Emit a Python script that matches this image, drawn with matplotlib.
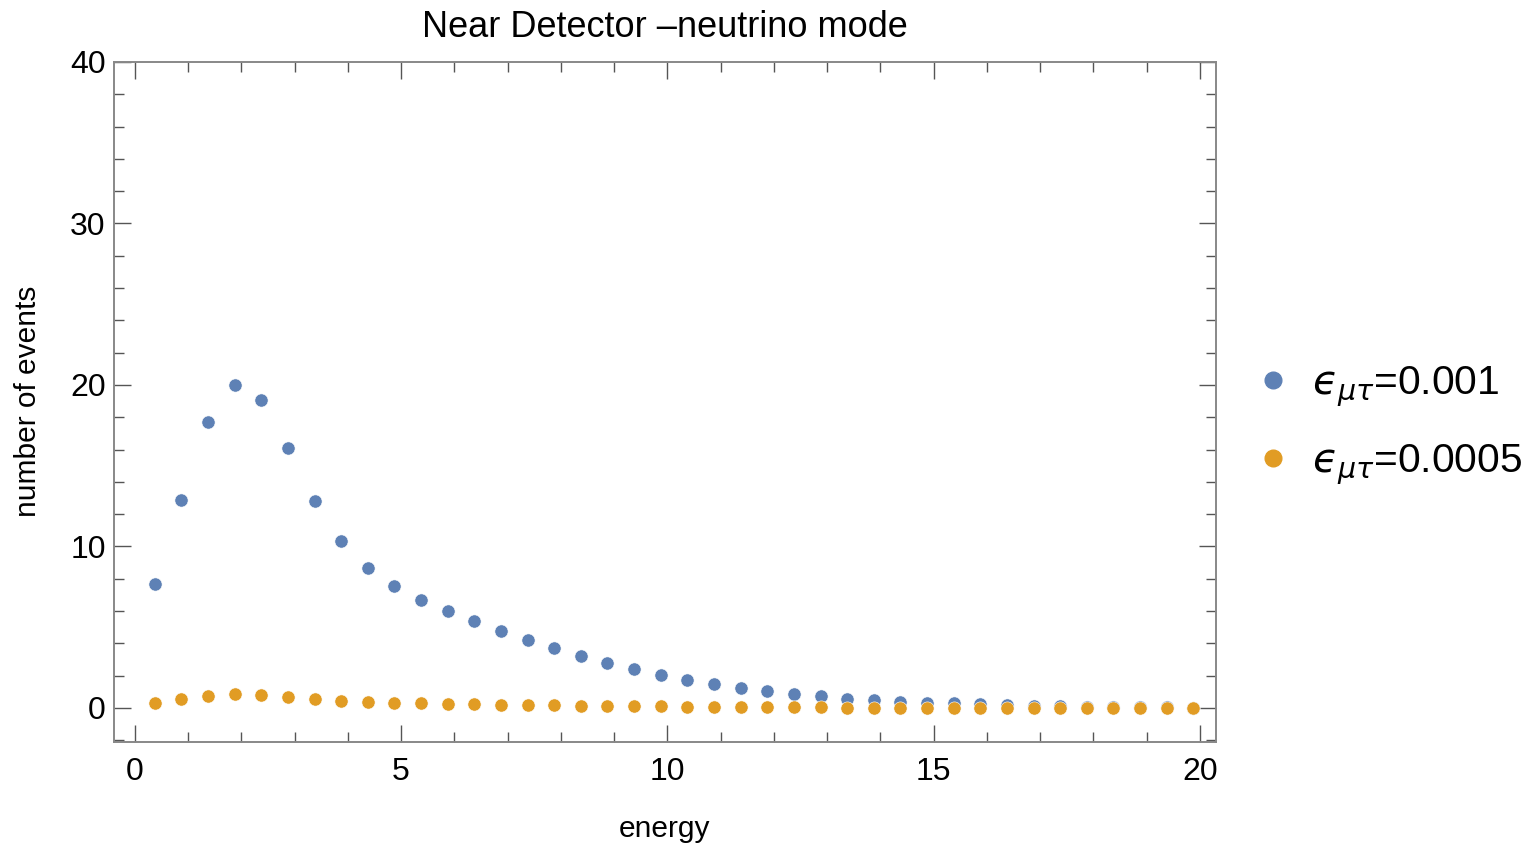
import matplotlib
matplotlib.use("Agg")
import matplotlib.pyplot as plt
from matplotlib.lines import Line2D
from matplotlib.ticker import MultipleLocator

plt.rcParams['font.family'] = ['Liberation Sans', 'DejaVu Sans']
plt.rcParams['mathtext.fontset'] = 'dejavusans'

energy = [0.375 + 0.5 * i for i in range(40)]
blue_vals = [7.68, 12.87, 17.71, 20.02, 19.05, 16.08, 12.84, 10.33, 8.66, 7.52,
             6.70, 5.98, 5.36, 4.76, 4.21, 3.69, 3.22, 2.80, 2.41, 2.06,
             1.75, 1.46, 1.24, 1.03, 0.84, 0.71, 0.58, 0.47, 0.39, 0.33,
             0.29, 0.22, 0.18, 0.14, 0.10, 0.07, 0.05, 0.04, 0.03, 0.02]
orange_vals = [0.33, 0.56, 0.76, 0.87, 0.80, 0.66, 0.53, 0.43, 0.35, 0.31,
               0.28, 0.25, 0.22, 0.20, 0.18, 0.15, 0.13, 0.12, 0.10, 0.09,
               0.07, 0.06, 0.05, 0.04, 0.035, 0.03, 0.025, 0.02, 0.016, 0.014,
               0.012, 0.009, 0.008, 0.006, 0.004, 0.003, 0.002, 0.0015, 0.001, 0.0005]
labels = ['$\u03f5_{\\mu\\tau}$=0.001', '$\u03f5_{\\mu\\tau}$=0.0005']
colors = ['#5E81B5', '#E19C24']

fig = plt.figure(figsize=(15.31, 8.46), dpi=100)
ax = fig.add_axes([114/1531, 1-741.5/846, (1216-114)/1531, (741.5-62)/846])

ax.plot(energy, blue_vals, 'o', color=colors[0], ms=9.5, mec='white', mew=0.4, zorder=3)
ax.plot(energy, orange_vals, 'o', color=colors[1], ms=9.5, mec='white', mew=0.4, zorder=4)

ax.set_xlim(-0.39, 20.3)
ax.set_ylim(-2.08, 40)
ax.xaxis.set_major_locator(MultipleLocator(5))
ax.xaxis.set_minor_locator(MultipleLocator(1))
ax.yaxis.set_major_locator(MultipleLocator(10))
ax.yaxis.set_minor_locator(MultipleLocator(2))
ax.tick_params(which='both', direction='in', top=True, right=True, color='#555555',
               labelsize=23, labelcolor='black')
ax.tick_params(which='major', length=12, width=1.0)
ax.tick_params(axis='x', which='major', pad=11)
ax.tick_params(axis='y', which='major', pad=6)
ax.tick_params(which='minor', length=7, width=1.0)
for s in ax.spines.values():
    s.set_color('#888888')
    s.set_linewidth(1.4)

ax.set_title('Near Detector \u2013neutrino mode', fontsize=26, pad=18)
ax.set_xlabel('energy', fontsize=21.5, labelpad=20)
ax.set_ylabel('number of events', fontsize=21.5, labelpad=20)

handles = [Line2D([], [], ls='none', marker='o', color=c, ms=12) for c in colors]
fig.legend(handles, labels, loc='center left', bbox_to_anchor=(0.797, 0.497),
           frameon=False, fontsize=29.3, handlelength=0.8, handletextpad=0.55,
           labelspacing=0.83)

fig.savefig('out.png', dpi=100)
